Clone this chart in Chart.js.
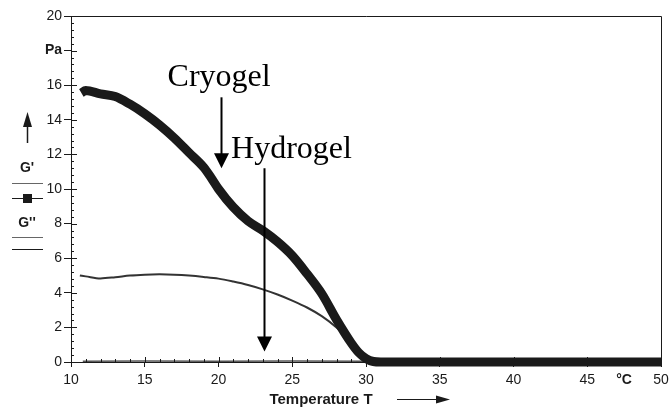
<!DOCTYPE html>
<html>
<head>
<meta charset="utf-8">
<script src="https://cdn.jsdelivr.net/npm/chart.js@4.4.1/dist/chart.umd.min.js"></script>
<style>
html, body { margin: 0; padding: 0; background: #fff; }
</style>
</head>
<body>
<canvas id="rheoChart" width="670" height="412"></canvas>
<script>
// Cryogel G' (thick square markers)
const cryoTemp = [10.7, 11, 12, 13, 14, 15, 16, 17, 18, 19, 19.5, 20, 21, 22, 23, 24, 25, 26, 27, 28, 29, 29.5, 30, 30.5, 31, 35, 40, 45, 50, 50.3];
const cryoG = [15.55, 15.7, 15.5, 15.35, 14.9, 14.35, 13.7, 12.95, 12.1, 11.25, 10.65, 10.0, 8.95, 8.15, 7.6, 6.95, 6.15, 5.1, 3.95, 2.45, 1.1, 0.55, 0.2, 0.03, 0, 0, 0, 0, 0, 0];

// Hydrogel curve
const hydroTemp = [10.6, 11, 12, 13, 14, 15, 16, 17, 18, 19, 20, 21, 22, 23, 24, 25, 26, 27, 28, 28.5, 29, 29.5, 30, 30.5, 31, 35, 40, 45, 50];
const hydroG = [5.0, 4.95, 4.83, 4.9, 5.0, 5.05, 5.07, 5.05, 5.0, 4.92, 4.82, 4.65, 4.45, 4.2, 3.9, 3.55, 3.15, 2.65, 2.0, 1.6, 1.05, 0.5, 0.08, 0.02, 0, 0, 0, 0, 0];

// flat curve near zero
const baseTemp = [10.8, 15, 20, 25, 30, 35, 40, 45, 50];
const baseG = [0.05, 0.06, 0.05, 0.06, 0.05, 0.05, 0.05, 0.05, 0.05];

// ticks
const xTicks = [10, 15, 20, 25, 30, 35, 40, 45, 50];
const yTicks = [0, 2, 4, 6, 8, 10, 12, 14, 16, 18, 20];

const pts = (xs, ys) => xs.map((x, i) => ({ x: x, y: ys[i] }));
const INK = "#1a1a1a";

const extras = {
    id: "extras",
    afterDatasetsDraw(chart) {
        const ctx = chart.ctx;
        const a = chart.chartArea;
        const xs = chart.scales.x, ys = chart.scales.y;
        ctx.save();
        ctx.strokeStyle = INK;
        ctx.lineWidth = 1;

        // frame top and right
        ctx.beginPath();
        ctx.moveTo(a.left, a.top + 0.5);
        ctx.lineTo(a.right + 0.5, a.top + 0.5);
        ctx.lineTo(a.right + 0.5, a.bottom);
        ctx.stroke();

        // inner ticks
        ctx.beginPath();
        for (let v = 0; v <= 20.001; v += 0.4) {
            const py = Math.round(ys.getPixelForValue(v)) + 0.5;
            const major = Math.abs(v / 2 - Math.round(v / 2)) < 0.01;
            ctx.moveTo(a.left, py);
            ctx.lineTo(a.left + (major ? 6 : 3), py);
        }
        for (let v = 10; v <= 50; v += 1) {
            const px = Math.round(xs.getPixelForValue(v)) + 0.5;
            const major = v % 5 === 0;
            ctx.moveTo(px, a.bottom);
            ctx.lineTo(px, a.bottom - (major ? 5 : 3));
        }
        ctx.stroke();

        // annotations
        ctx.fillStyle = "#000";
        ctx.strokeStyle = "#000";
        ctx.font = "32px 'Liberation Serif'";
        ctx.textAlign = "left";
        ctx.textBaseline = "alphabetic";
        ctx.fillText("Cryogel", xs.getPixelForValue(16.55), ys.getPixelForValue(15.95));
        ctx.fillText("Hydrogel", xs.getPixelForValue(20.85), ys.getPixelForValue(11.8));

        const downArrow = (xv, y0, y1) => {
            const px = Math.round(xs.getPixelForValue(xv)) + 0.5;
            const top = ys.getPixelForValue(y0), tip = ys.getPixelForValue(y1);
            ctx.lineWidth = 2;
            ctx.beginPath();
            ctx.moveTo(px, top);
            ctx.lineTo(px, tip - 10);
            ctx.stroke();
            ctx.beginPath();
            ctx.moveTo(px - 7.5, tip - 15);
            ctx.lineTo(px + 7.5, tip - 15);
            ctx.lineTo(px, tip);
            ctx.closePath();
            ctx.fill();
        };
        downArrow(20.2, 15.3, 11.2);
        downArrow(23.1, 11.2, 0.6);
        ctx.restore();
    },
    afterDraw(chart) {
        const ctx = chart.ctx;
        ctx.save();
        ctx.fillStyle = INK;
        ctx.strokeStyle = INK;

        // x axis title and arrow
        ctx.font = "bold 15px 'Liberation Sans'";
        ctx.textAlign = "center";
        ctx.textBaseline = "alphabetic";
        ctx.fillText("Temperature T", 321, 404);
        ctx.lineWidth = 1.2;
        ctx.beginPath();
        ctx.moveTo(397, 399.5);
        ctx.lineTo(440, 399.5);
        ctx.stroke();
        ctx.beginPath();
        ctx.moveTo(436, 395.5);
        ctx.lineTo(450, 399.5);
        ctx.lineTo(436, 403.5);
        ctx.closePath();
        ctx.fill();

        // legend on the left
        ctx.lineWidth = 1.5;
        ctx.beginPath();
        ctx.moveTo(27.5, 143);
        ctx.lineTo(27.5, 122);
        ctx.stroke();
        ctx.beginPath();
        ctx.moveTo(23, 127);
        ctx.lineTo(27.5, 112);
        ctx.lineTo(32, 127);
        ctx.closePath();
        ctx.fill();

        ctx.font = "bold 14px 'Liberation Sans'";
        ctx.fillText("G'", 27, 172);
        ctx.fillText("G''", 27, 227);

        ctx.lineWidth = 1;
        const hline = (y, c) => {
            ctx.strokeStyle = c;
            ctx.beginPath();
            ctx.moveTo(12, y + 0.5);
            ctx.lineTo(43, y + 0.5);
            ctx.stroke();
        };
        hline(183, "#666");
        hline(198, INK);
        ctx.fillRect(23, 194, 9, 9);
        hline(237, "#666");
        hline(249, INK);
        ctx.restore();
    }
};

new Chart(document.getElementById("rheoChart"), {
    type: "line",
    data: {
        datasets: [{
            label: "Cryogel G'",
            data: pts(cryoTemp, cryoG),
            borderColor: INK,
            borderWidth: 9,
            borderCapStyle: "butt",
            pointRadius: 0,
            cubicInterpolationMode: "monotone",
            clip: { left: 0, top: 0, right: 6, bottom: 6 },
            order: 0
        }, {
            label: "Hydrogel",
            data: pts(hydroTemp, hydroG),
            borderColor: "#333",
            borderWidth: 2,
            pointRadius: 0,
            cubicInterpolationMode: "monotone",
            order: 1
        }, {
            label: "G''",
            data: pts(baseTemp, baseG),
            borderColor: "#555",
            borderWidth: 1.5,
            pointRadius: 0,
            order: 2
        }]
    },
    options: {
        responsive: false,
        animation: false,
        layout: { padding: { left: 0, right: 9, top: 16, bottom: 0 } },
        plugins: {
            legend: { display: false },
            tooltip: { enabled: false }
        },
        scales: {
            x: {
                type: "linear",
                min: 10,
                max: 50,
                afterBuildTicks(scale) {
                    const t = xTicks.map(v => ({ value: v }));
                    t.splice(t.length - 1, 0, { value: 47.5 });
                    scale.ticks = t;
                },
                afterFit(scale) {
                    scale.height = 50;
                    scale.paddingLeft = 0;
                    scale.paddingRight = 0;
                },
                grid: {
                    drawOnChartArea: false,
                    tickLength: 5,
                    tickColor: c => (c.tick && c.tick.value === 47.5) ? "rgba(0,0,0,0)" : INK
                },
                border: { color: INK, width: 1 },
                ticks: {
                    autoSkip: false,
                    maxRotation: 0,
                    padding: 5,
                    color: INK,
                    font: c => (c.tick && c.tick.value === 47.5)
                        ? { family: "'Liberation Sans'", size: 14, weight: "bold" }
                        : { family: "'Liberation Sans'", size: 14 },
                    callback: v => v === 47.5 ? "°C" : v
                }
            },
            y: {
                type: "linear",
                min: 0,
                max: 20,
                afterBuildTicks(scale) {
                    scale.ticks = yTicks.map(v => ({ value: v }));
                },
                afterFit(scale) {
                    scale.width = 71;
                    scale.paddingTop = 0;
                    scale.paddingBottom = 0;
                },
                grid: {
                    drawOnChartArea: false,
                    tickLength: 7,
                    tickColor: INK
                },
                border: { color: INK, width: 1 },
                ticks: {
                    autoSkip: false,
                    padding: 2,
                    color: INK,
                    font: c => (c.tick && c.tick.value === 18)
                        ? { family: "'Liberation Sans'", size: 14, weight: "bold" }
                        : { family: "'Liberation Sans'", size: 14 },
                    callback: v => v === 18 ? "Pa" : v
                }
            }
        }
    },
    plugins: [extras]
});
</script>
</body>
</html>
